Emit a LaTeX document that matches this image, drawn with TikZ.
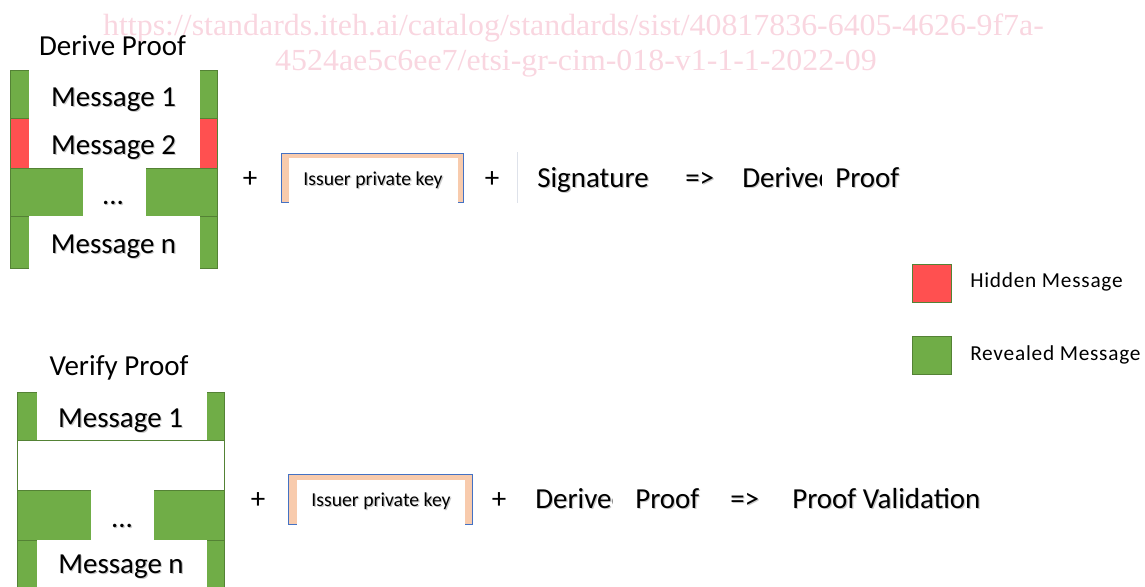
\documentclass[tikz,border=0pt]{standalone}
\usepackage{fontspec}
\setmainfont{Carlito}
\newfontfamily\wmfont{Liberation Serif}
\newfontfamily\legendfont[LetterSpace=3.5]{Carlito}

\definecolor{msggreen}{RGB}{112,173,71}
\definecolor{msgedge}{RGB}{84,130,53}
\definecolor{msgred}{RGB}{255,80,80}
\definecolor{keyfill}{RGB}{248,203,173}
\definecolor{keyedge}{RGB}{68,114,196}
\definecolor{wmpink}{RGB}{249,214,224}
\definecolor{sepgray}{RGB}{222,226,234}
\definecolor{shadowgray}{RGB}{200,200,200}

% text with a soft grey drop shadow behind it
\newcommand\shd[1]{\makebox[0pt][l]{\hspace{0.9pt}\raisebox{-0.9pt}{\textcolor{shadowgray}{#1}}}#1}

\tikzset{
  revealed/.style={fill=msggreen, draw=msgedge, line width=0.75pt},
  hiddenrow/.style={fill=msgred, draw=msgedge, line width=0.75pt},
  blankrow/.style={fill=white, draw=msgedge, line width=0.75pt},
  gap/.style={fill=white, draw=none},
  keyframe/.style={fill=keyfill, draw=keyedge, line width=0.75pt},
  big/.style={font=\fontsize{21.75}{26}\selectfont, inner sep=0pt, anchor=base},
  bigleft/.style={big, anchor=base west},
  keytext/.style={font=\fontsize{14.8}{18}\selectfont, inner sep=0pt, anchor=base},
  legendtext/.style={font=\legendfont\fontsize{16}{19}\selectfont, inner sep=0pt, anchor=base west},
  watermark/.style={font=\wmfont\fontsize{23}{27}\selectfont, text=wmpink, inner sep=0pt, text depth=0pt, anchor=base},
}

\begin{document}
\begin{tikzpicture}[x=0.75pt, y=-0.75pt]
\useasboundingbox (0,0) rectangle (1145,586);

% watermark lines
\node[watermark] (wm1) at (573.5,35) {\scalebox{1.04}[1]{https://standards.iteh.ai/catalog/standards/sist/40817836-6405-4626-9f7a-}};
\node[watermark] (wm2) at (576,70) {\scalebox{1.04}[1]{4524ae5c6ee7/etsi-gr-cim-018-v1-1-1-2022-09}};

% ---------------- Derive Proof: message stack ----------------
\node[big] (dtitle) at (112.5,55) {Derive Proof};

\draw[revealed]  (10,70)  rectangle (217,118);
\draw[hiddenrow] (10,118) rectangle (217,168);
\draw[revealed]  (10,168) rectangle (217,216);
\draw[revealed]  (10,216) rectangle (217,268);

\fill[gap] (29,69)   rectangle (200,118.4);
\fill[gap] (29,118.4) rectangle (200,167.6);
\fill[gap] (83,167.6) rectangle (146,216.4);
\fill[gap] (29,215.6) rectangle (200,269);

\node[big] (dm1) at (113.5,106) {\shd{Message 1}};
\node[big] (dm2) at (113.5,154) {\shd{Message 2}};
\node[big] (ddots) at (113,204) {\shd{...}};
\node[big] (dmn) at (113.5,253) {\shd{Message n}};

% ---------------- Derive Proof: equation ----------------
\node[big] (dplus1) at (250,187) {+};
\node[keyframe, minimum width=182*0.75pt, minimum height=49*0.75pt, inner sep=0pt] (dkey) at (372,177.5) {};
\fill[gap] (289,158) rectangle (458,203);
\node[keytext] (dkeytext) at (373,185) {\shd{Issuer private key}};
\node[big] (dplus2) at (492,187) {+};
\draw[sepgray, line width=0.6pt] (517,152) -- (517,203);
\node[bigleft] (dsig) at (537,187) {\shd{Signature}};
\node[bigleft] (darrow) at (685,187) {\shd{=>}};
\begin{scope}
  \clip (740,150) rectangle (821,205);
  \node[bigleft] (dderived) at (742,187) {\shd{Derived}};
\end{scope}
\node[bigleft] (dproof) at (835,187) {\shd{Proof}};

% ---------------- legend ----------------
\draw[hiddenrow] (912,264) rectangle (951,302);
\node[legendtext] (lhidden) at (970,287) {Hidden Message};
\draw[revealed] (912,336) rectangle (951,374);
\node[legendtext] (lrevealed) at (970,360) {Revealed Message};

% ---------------- Verify Proof: message stack ----------------
\node[big] (vtitle) at (119,375) {Verify Proof};

\draw[revealed]  (17,392) rectangle (224,440);
\draw[blankrow]  (17,440) rectangle (224,490);
\draw[revealed]  (17,490) rectangle (224,540);
\draw[revealed]  (17,540) rectangle (224,592);

\fill[gap] (37,391)    rectangle (207,439.6);
\fill[gap] (91,490.4)  rectangle (154,540.4);
\fill[gap] (37,540.4)  rectangle (207,593);

\node[big] (vm1) at (120.5,427) {\shd{Message 1}};
\node[big] (vdots) at (122,527) {\shd{...}};
\node[big] (vmn) at (121,573) {\shd{Message n}};

% ---------------- Verify Proof: equation ----------------
\node[big] (vplus1) at (258,508) {+};
\node[keyframe, minimum width=184*0.75pt, minimum height=50*0.75pt, inner sep=0pt] (vkey) at (380,499) {};
\fill[gap] (297,480) rectangle (465,525);
\node[keytext] (vkeytext) at (381,506) {\shd{Issuer private key}};
\node[big] (vplus2) at (499,508) {+};
\begin{scope}
  \clip (533,470) rectangle (612,525);
  \node[bigleft] (vderived) at (535,508) {\shd{Derived}};
\end{scope}
\node[bigleft] (vproof) at (635,508) {\shd{Proof}};
\node[bigleft] (varrow) at (730,508) {\shd{=>}};
\node[bigleft] (vresult) at (792,508) {\shd{Proof Validation}};

\end{tikzpicture}
\end{document}
